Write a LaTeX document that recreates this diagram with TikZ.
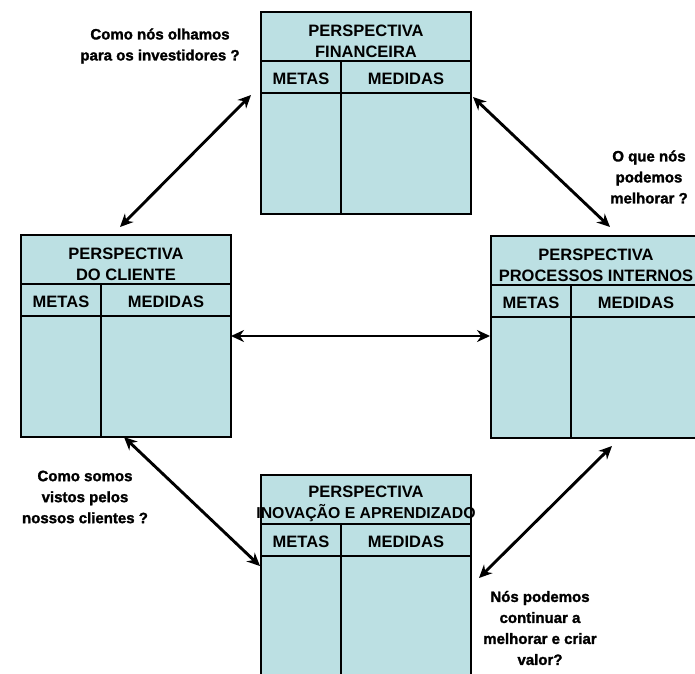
\documentclass[tikz,border=0pt]{standalone}
\usepackage{fontspec}
\setmainfont{Liberation Sans}
\newfontfamily\heavyfont[BoldFeatures={FakeBold=1.6}]{Liberation Sans}
\usetikzlibrary{arrows.meta}

\definecolor{boxfill}{RGB}{188,224,227}

\tikzset{
  persp/.style={draw=black, line width=1.4pt, fill=boxfill, rectangle,
    anchor=north west, minimum width=210pt, minimum height=202pt,
    inner sep=0pt, outer sep=0pt},
  rule/.style={draw=black, line width=1.2pt},
  titletext/.style={font=\fontsize{16.5}{21}\selectfont\bfseries,
    align=center, inner sep=0pt},
  headtext/.style={font=\fontsize{16.5}{20}\selectfont\bfseries, inner sep=0pt},
  question/.style={font=\heavyfont\fontsize{15}{21}\selectfont\bfseries,
    align=center, inner sep=0pt},
  link/.style={line width=2.9pt, {Stealth[length=13pt,width=12pt]}-{Stealth[length=13pt,width=12pt]}},
}

% one perspective table: title row, METAS / MEDIDAS header row, two empty columns
\newcommand{\perspectivebox}[4]{%
  \node[persp] (#1) at (#2,#3) {};
  \draw[rule] ([yshift=-49pt]#1.north west) -- ([yshift=-49pt]#1.north east);
  \draw[rule] ([yshift=-81pt]#1.north west) -- ([yshift=-81pt]#1.north east);
  \draw[rule] ([xshift=80pt,yshift=-49pt]#1.north west) -- ([xshift=80pt]#1.south west);
  \node[titletext] (#1-title) at ([xshift=105pt,yshift=-29pt]#1.north west) {#4};
  \node[headtext] (#1-metas) at ([xshift=40pt,yshift=-67pt]#1.north west) {METAS};
  \node[headtext] (#1-medidas) at ([xshift=145pt,yshift=-67pt]#1.north west) {MEDIDAS};
}

\begin{document}
\begin{tikzpicture}[x=1pt,y=-1pt]
  \useasboundingbox (0,0) rectangle (695,673);
  \clip (0,0) rectangle (695,673);

  \perspectivebox{fin}{261}{12}{PERSPECTIVA\\FINANCEIRA}
  \perspectivebox{cli}{21}{235}{PERSPECTIVA\\DO CLIENTE}
  \perspectivebox{proc}{491}{236}{PERSPECTIVA\\PROCESSOS INTERNOS}
  \perspectivebox{inov}{261}{475}{PERSPECTIVA\\{\fontsize{15.8}{21}\selectfont INOVAÇÃO E APRENDIZADO}}

  % arrow end points beside the tables
  \coordinate (finL) at (251,95);
  \coordinate (cliT) at (120,227);
  \coordinate (finR) at (473,97);
  \coordinate (procT) at (610,227);
  \coordinate (cliR) at (231,336);
  \coordinate (procL) at (490,336);
  \coordinate (cliB) at (124,437);
  \coordinate (inovL) at (260,566);
  \coordinate (procB) at (612,446);
  \coordinate (inovR) at (479,578);

  \draw[link] (finL) -- (cliT);
  \draw[link] (finR) -- (procT);
  \draw[link] (cliR) -- (procL);
  \draw[link] (cliB) -- (inovL);
  \draw[link] (procB) -- (inovR);

  \node[question] (q1) at (160,46) {Como nós olhamos\\para os investidores ?};
  \node[question] (q2) at (649,177) {O que nós\\podemos\\melhorar ?};
  \node[question] (q3) at (85,497) {Como somos\\vistos pelos\\nossos clientes ?};
  \node[question] (q4) at (540,628) {Nós podemos\\continuar a\\melhorar e criar\\valor?};
\end{tikzpicture}
\end{document}
